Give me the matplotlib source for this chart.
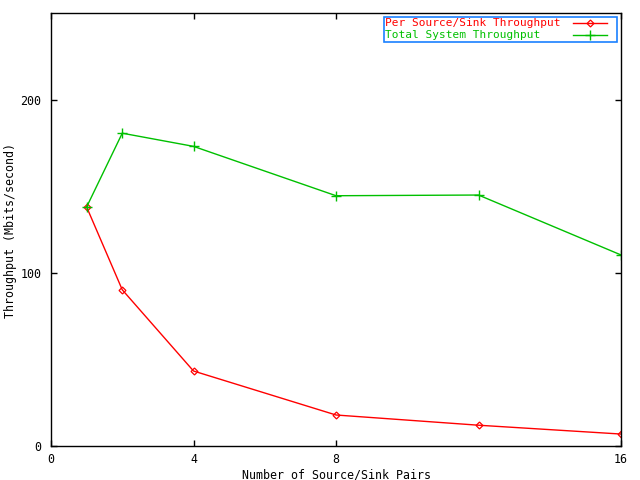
import matplotlib
matplotlib.use("Agg")
import matplotlib.pyplot as plt
from matplotlib.lines import Line2D
from matplotlib.patches import Rectangle

pairs = [1, 2, 4, 8, 12, 16]
per_pair = [138.0, 90.2, 43.3, 17.9, 12.0, 6.9]
total = [138.0, 180.6, 173.0, 144.5, 144.9, 110.3]
xticks = [0, 4, 8, 16]
yticks = [0, 100, 200]
labels = ['Per Source/Sink Throughput', 'Total System Throughput']
colors = ['#ff0000', '#00c000']

W, H = 640, 480
FS = 8.4
LFS = 8.0
plt.rcParams['font.family'] = ['DejaVu Sans Mono']
fig = plt.figure(figsize=(6.4, 4.8), dpi=100)
ax = fig.add_axes([51/W, 34/H, 570/W, 433/H])

ax.plot(pairs, per_pair, color=colors[0], lw=1, marker='D', ms=3.5, mfc='none', mew=0.9)
ax.plot(pairs, total, color=colors[1], lw=1, marker='+', ms=7, mew=1)

ax.set_xlim(0, 16)
ax.set_ylim(0, 250)
ax.set_xticks(xticks)
ax.set_yticks(yticks)
ax.tick_params(direction='in', length=4, width=1, top=True, right=True, labelsize=FS)
ax.tick_params(axis='x', pad=5)
ax.tick_params(axis='y', pad=7)
for s in ax.spines.values():
    s.set_linewidth(1)

def fx(px):
    return px / W

def fy(py):
    return 1 - py / H

fig.text(fx(337), fy(475), 'Number of Source/Sink Pairs', fontsize=FS, ha='center', va='center')
fig.text(fx(11), fy(230), 'Throughput (Mbits/second)', fontsize=FS, ha='center', va='center',
         rotation=90)

# manual legend (gnuplot key)
fig.add_artist(Rectangle((fx(384), fy(41.5)), fx(617) - fx(384), fy(16.5) - fy(41.5),
                         transform=fig.transFigure, fill=False, edgecolor='#1a80ff', lw=1.2))
rows = [23.3, 35.0]
mk = [dict(marker='D', ms=3.5, mfc='none', mew=0.9), dict(marker='+', ms=7, mew=1)]
for lab, col, yy, m in zip(labels, colors, rows, mk):
    fig.text(fx(385), fy(yy), lab, color=col, fontsize=LFS, ha='left', va='center')
    fig.add_artist(Line2D([fx(573), fx(607)], [fy(yy), fy(yy)], color=col, lw=1,
                          transform=fig.transFigure))
    fig.add_artist(Line2D([fx(590)], [fy(yy)], color=col, lw=0, transform=fig.transFigure, **m))

fig.savefig('out.png', dpi=100)
